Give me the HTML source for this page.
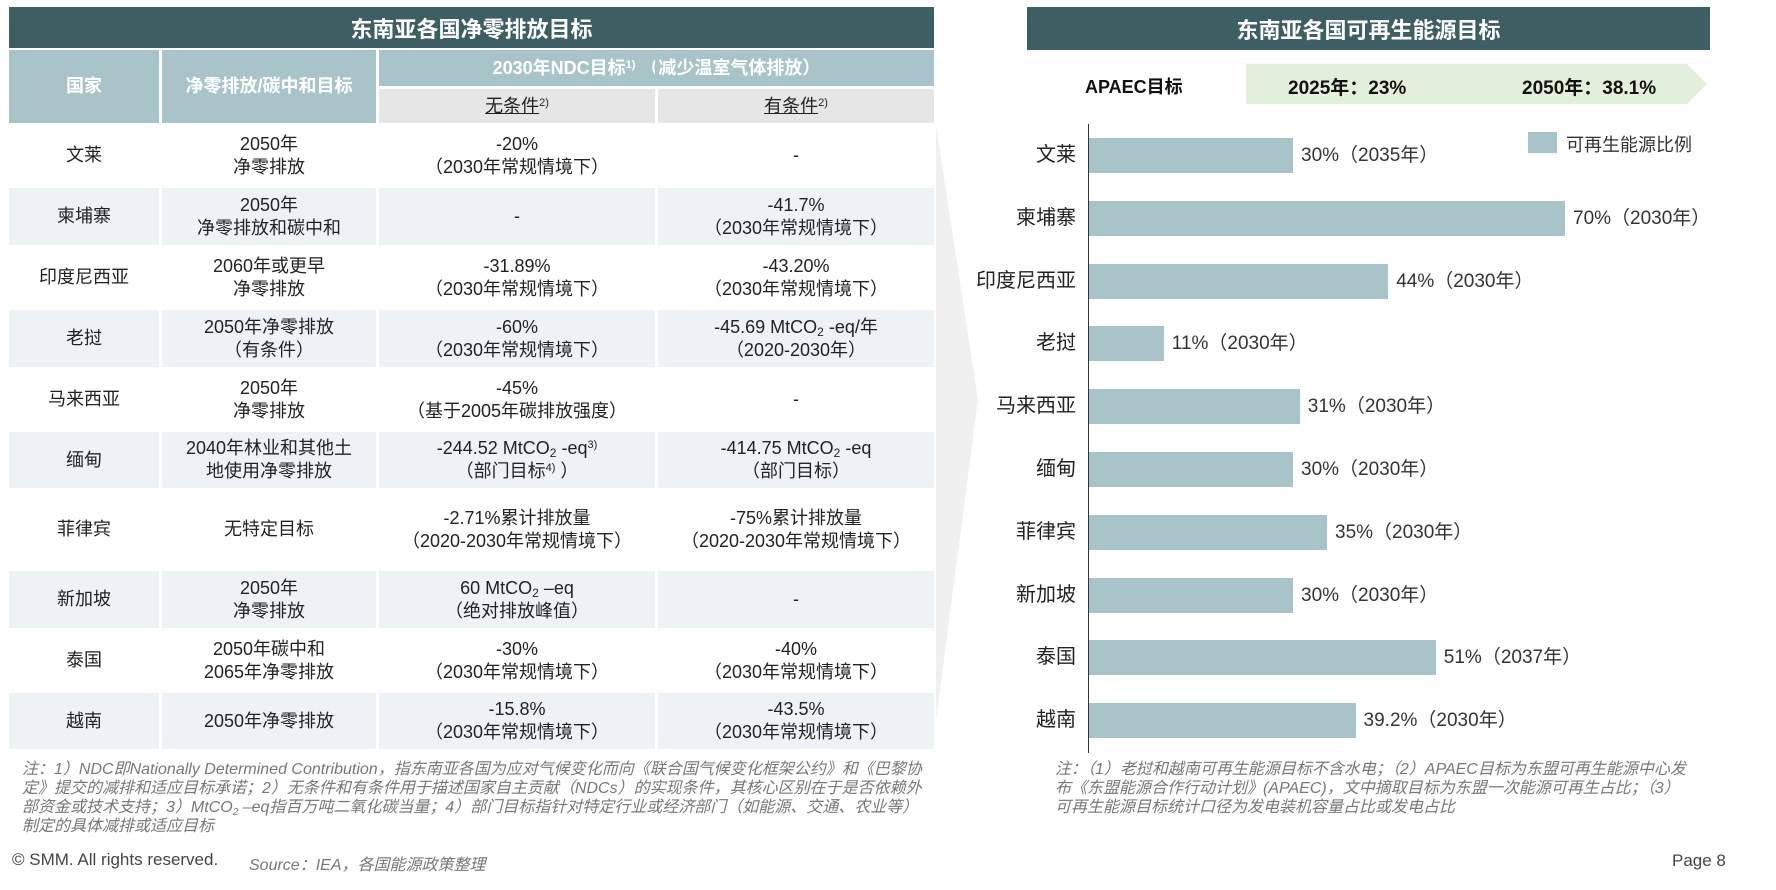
<!DOCTYPE html>
<html><head><meta charset="utf-8"><style>
*{margin:0;padding:0;box-sizing:border-box}
body{width:1776px;height:890px;background:#fff;position:relative;overflow:hidden;font-family:"Liberation Sans","Noto Sans CJK SC",sans-serif;color:#222}
.a{position:absolute}
.c{position:absolute;display:flex;align-items:center;justify-content:center;text-align:center;font-size:18px;line-height:23px;color:#222}
.h{color:#fff;font-weight:bold;font-size:18px}
.t{background:#3d5f63;color:#fff;font-weight:bold;font-size:22px;display:flex;align-items:center;justify-content:center}
.bar{position:absolute;left:1089px;height:35px;background:#a8c4c9}
.lab{position:absolute;font-size:19px;line-height:35px;color:#333}
.cat{position:absolute;right:700px;font-size:20px;line-height:35px;text-align:right;color:#222}
.note{position:absolute;font-size:16px;line-height:19px;font-style:italic;color:#777}
sub{font-size:12px;vertical-align:-3px;line-height:0}
sup{font-size:11px;vertical-align:6px;line-height:0}
</style></head><body>
<svg class="a" style="left:0;top:0" width="1776" height="890"><polygon points="936,125 978,400 936,720" fill="#f0f0f0"/></svg>

<div class="a t" style="left:9px;top:7px;width:925px;height:41px">东南亚各国净零排放目标</div>
<div class="a" style="left:9px;top:50px;width:150px;height:73px;background:#a8c4c9"></div>
<div class="a" style="left:162px;top:50px;width:214px;height:73px;background:#a8c4c9"></div>
<div class="a" style="left:379px;top:50px;width:555px;height:36px;background:#a8c4c9"></div>
<div class="a" style="left:379px;top:89px;width:276px;height:34px;background:#e6e6e6"></div>
<div class="a" style="left:658px;top:89px;width:276px;height:34px;background:#e6e6e6"></div>
<div class="c h" style="left:9px;top:50px;width:150px;height:73px">国家</div>
<div class="c h" style="left:162px;top:50px;width:214px;height:73px">净零排放/碳中和目标</div>
<div class="c h" style="left:379px;top:50px;width:555px;height:36px"><span>2030年NDC目标<sup>1)</sup>&nbsp;（减少温室气体排放）</span></div>
<div class="c" style="left:379px;top:89px;width:276px;height:34px"><span><u>无条件</u><sup>2)</sup></span></div>
<div class="c" style="left:658px;top:89px;width:276px;height:34px"><span><u>有条件</u><sup>2)</sup></span></div>

<div class="a" style="left:9px;top:188px;width:925px;height:57px;background:#edf2f4"></div>
<div class="a" style="left:9px;top:310px;width:925px;height:57px;background:#edf2f4"></div>
<div class="a" style="left:9px;top:432px;width:925px;height:56px;background:#edf2f4"></div>
<div class="a" style="left:9px;top:571px;width:925px;height:57px;background:#edf2f4"></div>
<div class="a" style="left:9px;top:693px;width:925px;height:56px;background:#edf2f4"></div>
<div class="a" style="left:159px;top:123px;width:3px;height:626px;background:#fff"></div>
<div class="a" style="left:376px;top:123px;width:3px;height:626px;background:#fff"></div>
<div class="a" style="left:655px;top:50px;width:3px;height:699px;background:#fff"></div>
<div class="a" style="left:655px;top:50px;width:3px;height:36px;background:#a8c4c9"></div>

<div id="rows"></div>
<script>
var R=[[123,188,"文莱","2050年<br>净零排放","-20%<br>（2030年常规情境下）","-"],
[188,245,"柬埔寨","2050年<br>净零排放和碳中和","-","-41.7%<br>（2030年常规情境下）"],
[245,310,"印度尼西亚","2060年或更早<br>净零排放","-31.89%<br>（2030年常规情境下）","-43.20%<br>（2030年常规情境下）"],
[310,367,"老挝","2050年净零排放<br>（有条件）","-60%<br>（2030年常规情境下）","-45.69 MtCO<sub>2</sub> -eq/年<br>（2020-2030年）"],
[367,432,"马来西亚","2050年<br>净零排放","-45%<br>（基于2005年碳排放强度）","-"],
[432,488,"缅甸","2040年林业和其他土<br>地使用净零排放","-244.52 MtCO<sub>2</sub> -eq<sup>3)</sup><br>（部门目标<sup>4)</sup> ）","-414.75 MtCO<sub>2</sub> -eq<br>（部门目标）"],
[488,571,"菲律宾","无特定目标","-2.71%累计排放量<br>（2020-2030年常规情境下）","-75%累计排放量<br>（2020-2030年常规情境下）"],
[571,628,"新加坡","2050年<br>净零排放","60 MtCO<sub>2</sub> –eq<br>（绝对排放峰值）","-"],
[628,693,"泰国","2050年碳中和<br>2065年净零排放","-30%<br>（2030年常规情境下）","-40%<br>（2030年常规情境下）"],
[693,749,"越南","2050年净零排放","-15.8%<br>（2030年常规情境下）","-43.5%<br>（2030年常规情境下）"]];
var X=[[9,150],[162,214],[379,276],[658,276]],h="";
R.forEach(function(r){for(var i=0;i<4;i++)h+='<div class="c" style="left:'+X[i][0]+'px;top:'+r[0]+'px;width:'+X[i][1]+'px;height:'+(r[1]-r[0])+'px"><span>'+r[i+2]+'</span></div>';});
document.getElementById("rows").innerHTML=h;
</script>

<div class="note" style="left:22px;top:760px;width:905px">注：1）NDC即Nationally Determined Contribution，指东南亚各国为应对气候变化而向《联合国气候变化框架公约》和《巴黎协定》提交的减排和适应目标承诺；2）无条件和有条件用于描述国家自主贡献（NDCs）的实现条件，其核心区别在于是否依赖外部资金或技术支持；3）MtCO<sub style="font-size:10px">2</sub> –eq指百万吨二氧化碳当量；4）部门目标指针对特定行业或经济部门（如能源、交通、农业等）制定的具体减排或适应目标</div>
<div class="a" style="left:12px;top:850px;font-size:17px;color:#444">© SMM. All rights reserved.</div>
<div class="a" style="left:249px;top:851px;font-size:16px;color:#777;font-style:italic">Source：IEA，各国能源政策整理</div>

<div class="a t" style="left:1027px;top:7px;width:683px;height:43px">东南亚各国可再生能源目标</div>
<div class="a" style="left:1085px;top:73px;font-size:18px;font-weight:bold;color:#111">APAEC目标</div>
<svg class="a" style="left:1246px;top:64px" width="462" height="40"><polygon points="0,0 441,0 461,20 441,40 0,40" fill="#e2efda"/></svg>
<div class="a" style="left:1288px;top:73px;font-size:19px;font-weight:bold;color:#111">2025年：23%</div>
<div class="a" style="left:1522px;top:73px;font-size:19px;font-weight:bold;color:#111">2050年：38.1%</div>
<div class="a" style="left:1088px;top:124px;width:1px;height:629px;background:#333"></div>
<div class="a" style="left:1528px;top:132px;width:29px;height:21px;background:#a8c4c9"></div>
<div class="a" style="left:1566px;top:131px;font-size:18px;color:#333">可再生能源比例</div>
<div id="bars"></div>
<script>
var B=[["文莱",30,"30%（2035年）"],["柬埔寨",70,"70%（2030年）"],["印度尼西亚",44,"44%（2030年）"],["老挝",11,"11%（2030年）"],["马来西亚",31,"31%（2030年）"],["缅甸",30,"30%（2030年）"],["菲律宾",35,"35%（2030年）"],["新加坡",30,"30%（2030年）"],["泰国",51,"51%（2037年）"],["越南",39.2,"39.2%（2030年）"]],g="";
B.forEach(function(b,i){var y=138+i*62.8,w=b[1]*6.8;
g+='<div class="bar" style="top:'+y+'px;width:'+w+'px"></div><div class="lab" style="top:'+y+'px;left:'+(1097+w)+'px">'+b[2]+'</div><div class="cat" style="top:'+y+'px">'+b[0]+'</div>';});
document.getElementById("bars").innerHTML=g;
</script>
<div class="note" style="left:1055px;top:760px;width:640px">注：（1）老挝和越南可再生能源目标不含水电；（2）APAEC目标为东盟可再生能源中心发布《东盟能源合作行动计划》(APAEC)，文中摘取目标为东盟一次能源可再生占比；（3）可再生能源目标统计口径为发电装机容量占比或发电占比</div>
<div class="a" style="left:1672px;top:851px;font-size:17px;color:#444">Page 8</div>
</body></html>
